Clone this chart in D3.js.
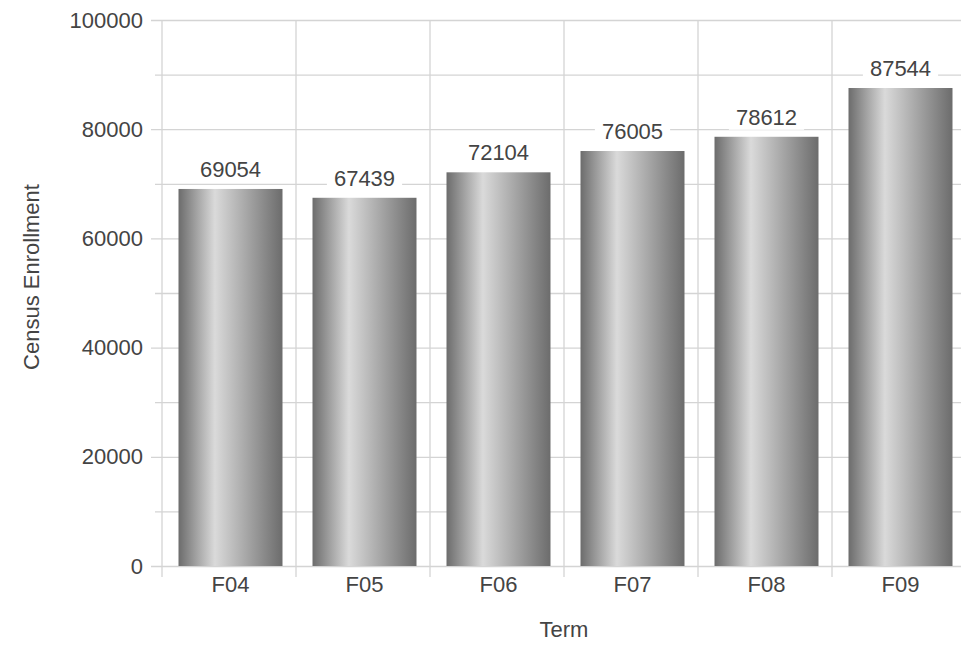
<!DOCTYPE html>
<html>
<head>
<meta charset="utf-8">
<script src="https://cdn.jsdelivr.net/npm/d3@7"></script>
<style>
  body { margin: 0; background: #fff; }
  text { font-family: "Liberation Sans", Arial, sans-serif; fill: #444; }
</style>
</head>
<body>
<div id="chart"></div>
<script>
// data
const terms = ['F04', 'F05', 'F06', 'F07', 'F08', 'F09'];
const enrollment = [69054, 67439, 72104, 76005, 78612, 87544];
const majorTicks = [0, 20000, 40000, 60000, 80000, 100000];
const minorTicks = [10000, 30000, 50000, 70000, 90000];

const width = 961, height = 647;
const plotLeft = 162, plotRight = 966, plotTop = 20, plotBottom = 566;
const gridColor = '#d4d4d4';

const svg = d3.select('#chart').append('svg')
    .attr('width', width)
    .attr('height', height);

const grad = svg.append('defs').append('linearGradient')
    .attr('id', 'barGrad')
    .attr('x1', '0%').attr('x2', '100%')
    .attr('y1', '0%').attr('y2', '0%');
grad.append('stop').attr('offset', '0%').attr('stop-color', '#6c6c6c');
grad.append('stop').attr('offset', '35%').attr('stop-color', '#dadada');
grad.append('stop').attr('offset', '100%').attr('stop-color', '#6c6c6c');

const x = d3.scaleBand().domain(terms).range([plotLeft + 1.5, plotRight + 1.5])
    .paddingInner(0.224).paddingOuter(0.112);
const xCell = d3.scaleBand().domain(terms).range([plotLeft, plotRight]);
const y = d3.scaleLinear().domain([0, 100000]).range([plotBottom, plotTop]);

// minor horizontal grid
svg.append('g')
    .attr('transform', 'translate(155,0)')
    .call(d3.axisLeft(y).tickValues(minorTicks).tickSize(-(width - 155)).tickFormat(''))
    .call(g => g.select('.domain').remove())
    .call(g => g.selectAll('line').attr('stroke', gridColor).attr('stroke-width', 1.3));

// major horizontal grid + labels
svg.append('g')
    .attr('transform', 'translate(151,0)')
    .call(d3.axisLeft(y).tickValues(majorTicks).tickSize(-(width - 151)).tickPadding(8)
        .tickFormat(d3.format('d')))
    .call(g => g.select('.domain').remove())
    .call(g => g.selectAll('line').attr('stroke', gridColor).attr('stroke-width', 1.3))
    .call(g => g.selectAll('text').attr('font-size', 22).attr('fill', '#444')
        .style('font-family', '"Liberation Sans", Arial, sans-serif'));

// vertical cell boundaries
svg.append('g').selectAll('line')
    .data(terms)
    .join('line')
    .attr('x1', d => xCell(d)).attr('x2', d => xCell(d))
    .attr('y1', plotTop).attr('y2', plotBottom + 11)
    .attr('stroke', gridColor).attr('stroke-width', 1.3);

// bars
svg.append('g').selectAll('rect')
    .data(enrollment)
    .join('rect')
    .attr('x', (d, i) => x(terms[i]))
    .attr('width', x.bandwidth())
    .attr('y', d => y(d))
    .attr('height', d => y(0) - y(d))
    .attr('fill', 'url(#barGrad)');

// value labels with white boxes
const labels = svg.append('g').selectAll('g')
    .data(enrollment)
    .join('g')
    .attr('transform', (d, i) => `translate(${x(terms[i]) + x.bandwidth() / 2},${y(d) - 12})`);
labels.append('rect').attr('fill', '#fff');
labels.append('text')
    .attr('text-anchor', 'middle')
    .attr('font-size', 22)
    .text(d => d);
labels.each(function () {
    const g = d3.select(this);
    const w = g.select('text').node().getBBox().width;
    g.select('rect')
        .attr('x', -w / 2 - 7).attr('width', w + 14)
        .attr('y', -21).attr('height', 26);
});

// x tick labels
svg.append('g').selectAll('text')
    .data(terms)
    .join('text')
    .attr('x', d => x(d) + x.bandwidth() / 2)
    .attr('y', 592)
    .attr('text-anchor', 'middle')
    .attr('font-size', 22)
    .text(d => d);

// axis titles
svg.append('text')
    .attr('x', 564).attr('y', 637)
    .attr('text-anchor', 'middle')
    .attr('font-size', 22)
    .text('Term');

svg.append('text')
    .attr('transform', 'translate(39,277) rotate(-90)')
    .attr('text-anchor', 'middle')
    .attr('font-size', 22)
    .text('Census Enrollment');
</script>
</body>
</html>
